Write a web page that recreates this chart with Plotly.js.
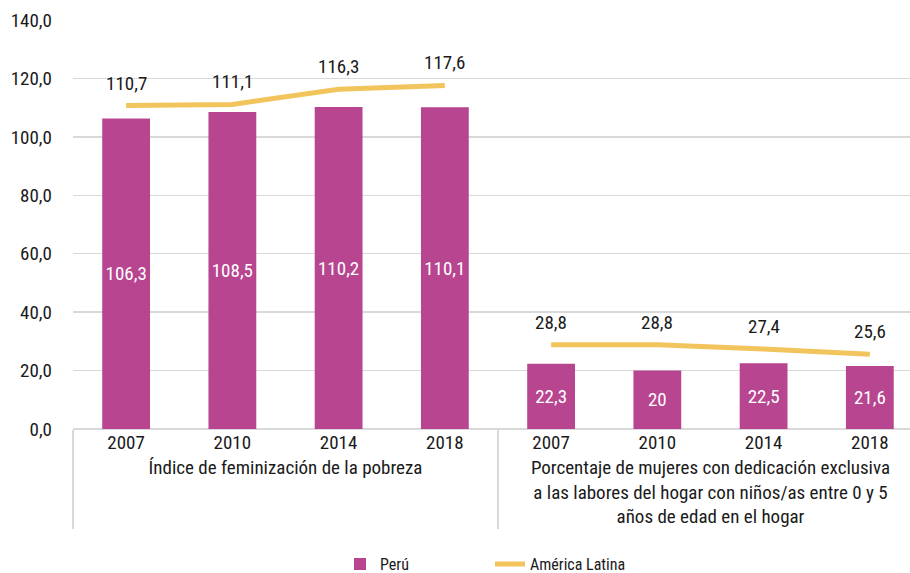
<!DOCTYPE html>
<html><head><meta charset="utf-8">
<script src="https://cdn.plot.ly/plotly-3.0.1.min.js"></script>
<style>html,body{margin:0;padding:0;background:#fff}#c{width:910px;height:573px}</style>
</head><body><div id="c"></div>
<script>
const groups = [
  "Índice de feminización de la pobreza",
  "Porcentaje de mujeres con dedicación exclusiva<br>a las labores del hogar con niños/as entre 0 y 5<br>años de edad en el hogar"
];
const years = ["2007", "2010", "2014", "2018"];
const peru = [106.3, 108.5, 110.2, 110.1, 22.3, 20, 22.5, 21.6];
const latam = [110.7, 111.1, 116.3, 117.6, 28.8, 28.8, 27.4, 25.6];
const yTicks = [0, 20, 40, 60, 80, 100, 120, 140];

const FONT = '"Roboto Condensed", "Liberation Sans Narrow", "DejaVu Sans Condensed", Roboto, sans-serif';
const fmt = v => String(v).replace('.', ',');

const xg = [], xy = [];
groups.forEach(g => years.forEach(y => { xg.push(g); xy.push(y); }));

const traces = [{
  type: 'bar', name: 'Perú',
  x: [xg, xy], y: peru,
  text: peru.map(fmt), textposition: 'inside', insidetextanchor: 'middle',
  textfont: {color: '#ffffff', size: 19, family: FONT},
  marker: {color: '#B8458F'}, width: 0.45,
  hoverinfo: 'skip'
}];
[0, 1].forEach(gi => {
  const idx = [0, 1, 2, 3].map(i => gi * 4 + i);
  traces.push({
    type: 'scatter', mode: 'lines', name: 'América Latina',
    legendgroup: 'al', showlegend: gi === 0,
    x: [idx.map(i => xg[i]), idx.map(i => xy[i])], y: idx.map(i => latam[i]),
    line: {color: '#F2C45C', width: 5},
    hoverinfo: 'skip'
  });
});

const annotations = latam.map((v, i) => ({
  xref: 'x', yref: 'y', x: i, y: v, text: fmt(v),
  showarrow: false, xanchor: 'center', yanchor: 'bottom', yshift: 9,
  font: {color: '#1a1a1a', size: 19, family: FONT}
}));

const layout = {
  width: 910, height: 573,
  margin: {l: 73, r: 0, t: 20, b: 144, autoexpand: false},
  paper_bgcolor: '#fff', plot_bgcolor: '#fff',
  font: {family: FONT, size: 19, color: '#1a1a1a'},
  separators: ',.',
  bargap: 0.55,
  annotations: annotations,
  xaxis: {
    type: 'multicategory', automargin: false,
    range: [-0.5, 7.378],
    showgrid: false, showline: false, ticks: '',
    showdividers: true, dividercolor: '#d9d9d9', dividerwidth: 2,
    tickfont: {size: 19, color: '#1a1a1a', family: FONT}
  },
  yaxis: {
    range: [0, 140], tickvals: yTicks, tickformat: '.1f', automargin: false,
    showgrid: true, gridcolor: '#d9d9d9', gridwidth: 1.5,
    zeroline: true, zerolinecolor: '#d9d9d9', zerolinewidth: 2,
    showline: false, ticks: '', ticklabelstandoff: 20,
    tickfont: {size: 19, color: '#1a1a1a', family: FONT}
  },
  legend: {
    orientation: 'h', xref: 'paper', x: 0.319, xanchor: 'left',
    yref: 'container', y: 0.045, yanchor: 'top',
    entrywidth: 105, entrywidthmode: 'pixels',
    font: {size: 16, color: '#1a1a1a', family: FONT}
  },
  showlegend: true
};
Plotly.newPlot('c', traces, layout, {displayModeBar: false, staticPlot: true});
</script></body></html>
